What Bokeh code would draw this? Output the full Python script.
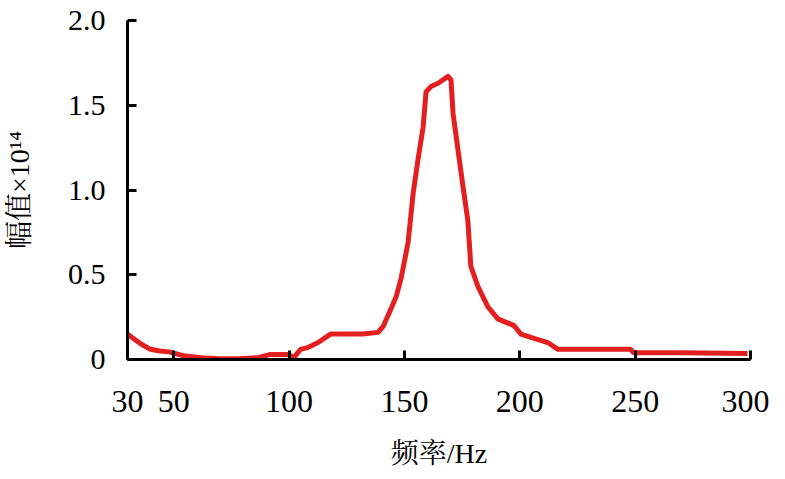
from bokeh.plotting import figure
from bokeh.models import FixedTicker, Range1d
from bokeh.embed import file_html
from bokeh.resources import INLINE

freq = [30, 33, 36, 40, 44, 48, 55, 62, 70, 78, 86, 92, 100, 102, 105, 108, 112.6, 118,
        125, 132, 138.6, 141, 144.2, 146.4, 148.6, 151.6, 153.8, 155.9, 158.1, 159.4,
        161.5, 164.6, 168.9, 170.2, 171.1, 173.2, 175.4, 177.5, 178.8, 181.9, 186.2,
        190.5, 197.5, 200.5, 204.8, 212.2, 216.5, 230, 248, 249.4, 270, 298.7]
amp = [0.15, 0.12, 0.09, 0.06, 0.05, 0.045, 0.02, 0.01, 0.005, 0.005, 0.01, 0.03, 0.03,
       0.01, 0.06, 0.07, 0.10, 0.15, 0.15, 0.15, 0.16, 0.20, 0.30, 0.37, 0.48, 0.69,
       0.98, 1.18, 1.37, 1.58, 1.61, 1.63, 1.67, 1.65, 1.45, 1.24, 1.02, 0.82, 0.55,
       0.43, 0.31, 0.24, 0.20, 0.15, 0.13, 0.10, 0.06, 0.06, 0.06, 0.04, 0.04, 0.035]

x_ticks = [30, 50, 100, 150, 200, 250, 300]
y_ticks = [0, 0.5, 1.0, 1.5, 2.0]
y_tick_labels = ["0", "0.5", "1.0", "1.5", "2.0"]

FONT = "'Liberation Serif', 'Noto Serif CJK SC', 'Noto Sans CJK SC'"

p = figure(width=769, height=471, output_backend="svg", toolbar_location=None,
           x_range=Range1d(30, 300), y_range=Range1d(0, 2.0),
           min_border_left=126, min_border_right=19, min_border_top=20, min_border_bottom=111)
p.outline_line_color = None
p.grid.visible = False
p.background_fill_color = "white"

p.line(freq, amp, line_color="#e3201f", line_width=5, line_join="round")

for ax in (p.xaxis[0], p.yaxis[0]):
    ax.axis_line_width = 3
    ax.axis_line_color = "black"
    ax.major_tick_line_width = 3
    ax.major_tick_in = 9
    ax.major_tick_out = 0
    ax.minor_tick_line_color = None
    ax.major_label_text_font = FONT
    ax.major_label_text_color = "black"
    ax.axis_label_text_font = FONT
    ax.axis_label_text_font_size = "28px"
    ax.axis_label_text_font_style = "normal"
    ax.axis_label_text_color = "black"

p.xaxis.major_label_text_font_size = "32px"
p.yaxis.major_label_text_font_size = "30px"
p.xaxis.ticker = FixedTicker(ticks=x_ticks)
p.yaxis.ticker = FixedTicker(ticks=y_ticks)
p.yaxis.major_label_overrides = {t: s for t, s in zip(y_ticks, y_tick_labels)}
p.xaxis.major_label_standoff = 31
p.yaxis.major_label_standoff = 22
p.xaxis.axis_label = "频率/Hz"
p.yaxis.axis_label = "幅值×10¹⁴"
p.xaxis.axis_label_standoff = 23
p.yaxis.axis_label_standoff = 30

open("out.html", "w").write(file_html(p, INLINE))
